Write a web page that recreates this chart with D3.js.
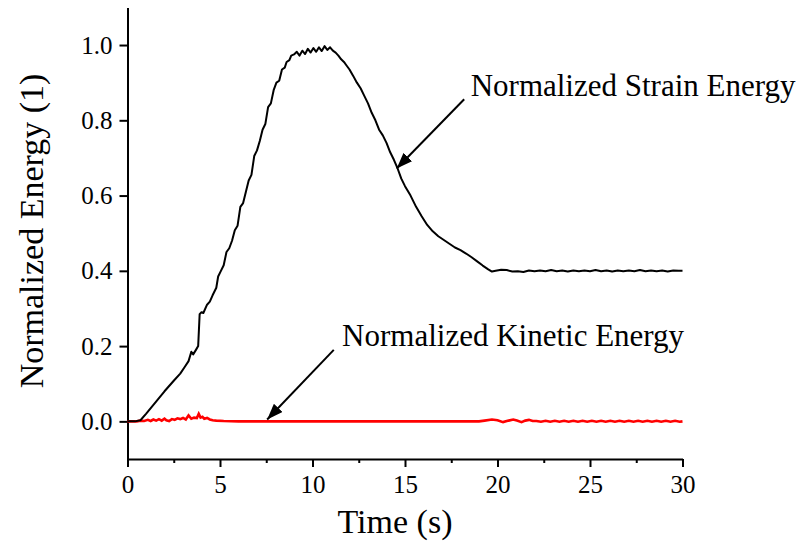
<!DOCTYPE html>
<html>
<head>
<meta charset="utf-8">
<script src="https://cdn.jsdelivr.net/npm/d3@7"></script>
<style>
  body { margin: 0; background: #fff; }
  svg text { font-family: "Liberation Serif", "Times New Roman", serif; fill: #000; }
</style>
</head>
<body>
<div id="chart"></div>
<script>
// strain energy
var strainTime = [0, 0.4, 0.7, 1.0, 1.5, 2.0, 2.5, 2.85, 3.1, 3.3, 3.45, 3.55, 3.7, 3.82, 3.9, 4.0, 4.1, 4.3, 4.45, 4.6,
  4.8, 4.9, 5.05, 5.2, 5.35, 5.5, 5.65, 5.8, 5.95, 6.1, 6.25, 6.4, 6.55, 6.7, 6.85, 7.0, 7.15, 7.3, 7.45, 7.6,
  7.75, 7.9, 8.05, 8.2, 8.35, 8.5, 8.6, 8.75, 8.85, 9.0, 9.15, 9.3, 9.45, 9.6, 9.75, 9.9, 10.05, 10.2, 10.35, 10.5,
  10.65, 10.8, 10.95, 11.1, 11.25, 11.4, 11.55, 11.7, 11.85, 12.0, 12.2, 12.4, 12.6, 12.8, 13.0, 13.2, 13.4, 13.6, 13.8, 14.0,
  14.2, 14.4, 14.6, 14.8, 15.0, 15.3, 15.6, 15.9, 16.2, 16.5, 16.8, 17.1, 17.4, 17.7, 18.0, 18.3, 18.6, 18.9, 19.2, 19.5,
  19.7, 19.9, 20.2, 20.5, 20.8, 21.1, 21.4, 21.7, 22.0, 22.3, 22.6, 22.9, 23.2, 23.5, 23.8, 24.1, 24.4, 24.7, 25.0, 25.3,
  25.6, 25.9, 26.2, 26.5, 26.8, 27.1, 27.4, 27.7, 28.0, 28.3, 28.6, 28.9, 29.2, 29.5, 29.8, 30.0];
var strainEnergy = [0, 0, 0.003, 0.02, 0.05, 0.08, 0.108, 0.127, 0.145, 0.16, 0.185, 0.178, 0.19, 0.2, 0.285, 0.29, 0.288, 0.31, 0.318, 0.335,
  0.355, 0.385, 0.4, 0.415, 0.45, 0.46, 0.48, 0.508, 0.52, 0.57, 0.58, 0.61, 0.64, 0.655, 0.705, 0.72, 0.745, 0.775, 0.79, 0.835,
  0.845, 0.88, 0.9, 0.905, 0.935, 0.94, 0.955, 0.96, 0.972, 0.975, 0.982, 0.972, 0.985, 0.976, 0.99, 0.98, 0.992, 0.982, 0.994, 0.984,
  0.997, 0.987, 0.994, 0.985, 0.98, 0.972, 0.962, 0.955, 0.945, 0.935, 0.918, 0.9, 0.885, 0.865, 0.845, 0.82, 0.8, 0.775, 0.76, 0.74,
  0.715, 0.695, 0.672, 0.645, 0.625, 0.6, 0.57, 0.545, 0.522, 0.505, 0.492, 0.482, 0.472, 0.462, 0.455, 0.446, 0.436, 0.425, 0.414, 0.404,
  0.398, 0.4, 0.403, 0.402, 0.398, 0.399, 0.397, 0.401, 0.399, 0.401, 0.399, 0.402, 0.399, 0.401, 0.398, 0.401, 0.399, 0.401, 0.399, 0.402,
  0.399, 0.401, 0.398, 0.401, 0.399, 0.401, 0.399, 0.402, 0.399, 0.401, 0.399, 0.401, 0.398, 0.401, 0.4, 0.4];

// kinetic energy
var kineticTime = [0, 0.5, 0.7, 0.9, 1.1, 1.25, 1.4, 1.55, 1.7, 1.85, 2.0, 2.1, 2.25, 2.4, 2.55, 2.7, 2.85, 3.0, 3.15, 3.3,
  3.45, 3.6, 3.75, 3.85, 3.95, 4.05, 4.15, 4.3, 4.45, 4.6, 4.8, 5.2, 6.0, 19.0, 19.3, 19.7, 20.0, 20.3, 20.6, 20.85,
  21.05, 21.3, 21.5, 21.7, 21.9, 22.1, 22.35, 22.6, 22.85, 23.1, 23.35, 23.6, 23.85, 24.1, 24.35, 24.6, 24.85, 25.1, 25.35, 25.6,
  25.85, 26.1, 26.35, 26.6, 26.85, 27.1, 27.35, 27.6, 27.85, 28.1, 28.35, 28.6, 28.85, 29.1, 29.35, 29.6, 29.85, 30.0];
var kineticEnergy = [0, 0, 0.002, 0.001, 0.004, 0.001, 0.005, 0.002, 0.006, 0.002, 0.007, 0.003, 0.001, 0.006, 0.004, 0.008, 0.006, 0.009, 0.005, 0.016,
  0.007, 0.01, 0.009, 0.02, 0.01, 0.012, 0.007, 0.009, 0.005, 0.003, 0.002, 0.001, 0, 0, 0.002, 0.005, 0.003, -0.002, 0.002, 0.005,
  0.002, -0.002, 0.002, 0.004, 0.001, 0.001, -0.001, 0.0015, -0.001, 0.0015, -0.001, 0.0015, -0.001, 0.0015, -0.001, 0.0015, -0.001, 0.0015, -0.001, 0.0015,
  -0.001, 0.0015, -0.001, 0.0015, -0.001, 0.0015, -0.001, 0.0015, -0.001, 0.0015, -0.001, 0.0015, -0.001, 0.0015, -0.001, 0.0015, -0.001, 0];

var xTicks = [0, 2.5, 5, 7.5, 10, 12.5, 15, 17.5, 20, 22.5, 25, 27.5, 30];
var yTicks = [0, 0.2, 0.4, 0.6, 0.8, 1.0];

// annotations: label, text anchor (t, v), arrow tail and tip (t, v)
var noteLabels = ["Normalized Strain Energy", "Normalized Kinetic Energy"];
var noteText = [[18.55, 0.865], [11.6, 0.2]];
var noteTail = [[18.2, 0.856], [11.15, 0.19]];
var noteTip = [[14.55, 0.672], [7.55, 0.005]];

var serif = '"Liberation Serif", "Times New Roman", serif';
var width = 809, height = 546;
var x = d3.scaleLinear().domain([0, 30]).range([127.5, 682.5]);
var y = d3.scaleLinear().domain([-0.1, 1.1]).range([459, 7.4]);

var svg = d3.select("#chart").append("svg")
    .attr("width", width)
    .attr("height", height)
    .attr("font-family", serif);

svg.append("rect").attr("width", width).attr("height", height).attr("fill", "#fff");

svg.append("defs").append("marker")
    .attr("id", "head")
    .attr("viewBox", "0 0 16 12")
    .attr("refX", 16).attr("refY", 6)
    .attr("markerWidth", 16).attr("markerHeight", 12)
    .attr("markerUnits", "userSpaceOnUse")
    .attr("orient", "auto")
  .append("path")
    .attr("d", "M0,0 L16,6 L0,12 Z")
    .attr("fill", "#000");

// axes
var xAxis = svg.append("g")
    .attr("transform", "translate(0," + y(-0.1) + ")")
    .call(d3.axisBottom(x).tickValues(xTicks).tickSize(8).tickSizeOuter(0).tickPadding(8)
      .tickFormat(function(d) { return d % 5 === 0 ? d : ""; }));
xAxis.selectAll(".tick line").attr("y2", function(d) { return d % 5 === 0 ? 8 : 4; });

var yAxis = svg.append("g")
    .attr("transform", "translate(" + x(0) + ",0)")
    .call(d3.axisLeft(y).tickValues(yTicks).tickSize(8).tickSizeOuter(0).tickPadding(7)
      .tickFormat(d3.format(".1f")));

svg.selectAll("g").filter(function() { return this.hasAttribute("font-family"); })
    .attr("font-family", serif).attr("font-size", 25);
svg.selectAll(".domain, .tick line").attr("stroke", "#000").attr("stroke-width", 2);
svg.selectAll(".tick text").attr("font-size", 25).attr("font-family", serif);

// titles
svg.append("text")
    .attr("x", 395).attr("y", 533)
    .attr("text-anchor", "middle")
    .attr("font-size", 34)
    .text("Time (s)");

svg.append("text")
    .attr("transform", "translate(43,231) rotate(-90)")
    .attr("text-anchor", "middle")
    .attr("font-size", 34)
    .text("Normalized Energy (1)");

// curves
var line = d3.line()
    .x(function(d) { return x(d[0]); })
    .y(function(d) { return y(d[1]); });

svg.append("path")
    .datum(d3.zip(kineticTime, kineticEnergy))
    .attr("fill", "none")
    .attr("stroke", "#ff0000")
    .attr("stroke-width", 2.6)
    .attr("d", line);

svg.append("path")
    .datum(d3.zip(strainTime, strainEnergy))
    .attr("fill", "none")
    .attr("stroke", "#000")
    .attr("stroke-width", 2)
    .attr("stroke-linejoin", "round")
    .attr("d", line);

// annotations
noteLabels.forEach(function(label, i) {
  svg.append("line")
      .attr("x1", x(noteTail[i][0])).attr("y1", y(noteTail[i][1]))
      .attr("x2", x(noteTip[i][0])).attr("y2", y(noteTip[i][1]))
      .attr("stroke", "#000")
      .attr("stroke-width", 2)
      .attr("marker-end", "url(#head)");
  svg.append("text")
      .attr("x", x(noteText[i][0])).attr("y", y(noteText[i][1]))
      .attr("font-size", 31)
      .text(label);
});
</script>
</body>
</html>
